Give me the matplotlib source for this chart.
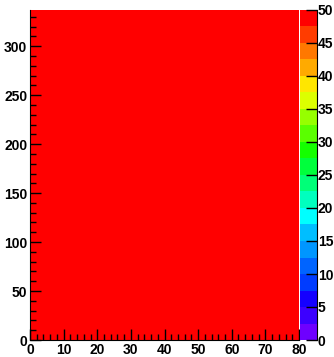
import numpy as np
import matplotlib.pyplot as plt
from matplotlib.colors import ListedColormap, BoundaryNorm
from matplotlib.cm import ScalarMappable

# histogram content (every bin saturated in the top colour level)
x_edges = [0, 80]
y_edges = [0, 337]
counts = [[50]]

levels = np.arange(0, 52.5, 2.5)
palette = ['#6e00ff', '#3c00ff', '#1400ff', '#003cff', '#0064ff',
           '#0096ff', '#00beff', '#00ffff', '#00ffbe', '#00ff78',
           '#00ff3c', '#14ff00', '#5aff00', '#96ff00', '#dcff00',
           '#ffe600', '#ffaa00', '#ff7800', '#ff3c00', '#ff0000']
x_ticks = [0, 10, 20, 30, 40, 50, 60, 70, 80]
y_ticks = [0, 50, 100, 150, 200, 250, 300]
z_ticks = [0, 5, 10, 15, 20, 25, 30, 35, 40, 45, 50]

plt.rcParams['font.family'] = 'Liberation Sans'
plt.rcParams['font.weight'] = 'bold'
plt.rcParams['font.size'] = 10

W, H = 334, 357
fig = plt.figure(figsize=(W / 100, H / 100), dpi=100)
ax = fig.add_axes([30 / W, 17 / H, 269 / W, 330 / H])

cmap = ListedColormap(palette)
norm = BoundaryNorm(levels, cmap.N)
ax.pcolormesh(x_edges, y_edges, np.array(counts) - 0.5, cmap=cmap, norm=norm)
ax.set_xlim(0, 80)
ax.set_ylim(0, 337)

ax.spines['top'].set_visible(False)
ax.spines['right'].set_visible(False)
ax.set_xticks(x_ticks)
ax.set_yticks(y_ticks)
ax.set_xticks(np.arange(0, 81, 2), minor=True)
ax.set_yticks(np.arange(0, 337, 10), minor=True)
ax.tick_params(which='major', direction='in', length=8, width=1)
ax.tick_params(which='minor', direction='in', length=4, width=1)
ax.tick_params(axis='x', pad=2.5)
ax.tick_params(axis='y', pad=2)

cax = fig.add_axes([300 / W, 17 / H, 16.5 / W, 330 / H])
cb = fig.colorbar(ScalarMappable(norm=norm, cmap=cmap), cax=cax, ticks=z_ticks)
cb.outline.set_visible(False)
cax.spines['right'].set_visible(True)
cax.tick_params(which='both', direction='in', length=8, width=1, pad=1)
cax.minorticks_off()
cax.set_yticklabels([str(z) for z in z_ticks])

fig.savefig('out.png', dpi=100)
